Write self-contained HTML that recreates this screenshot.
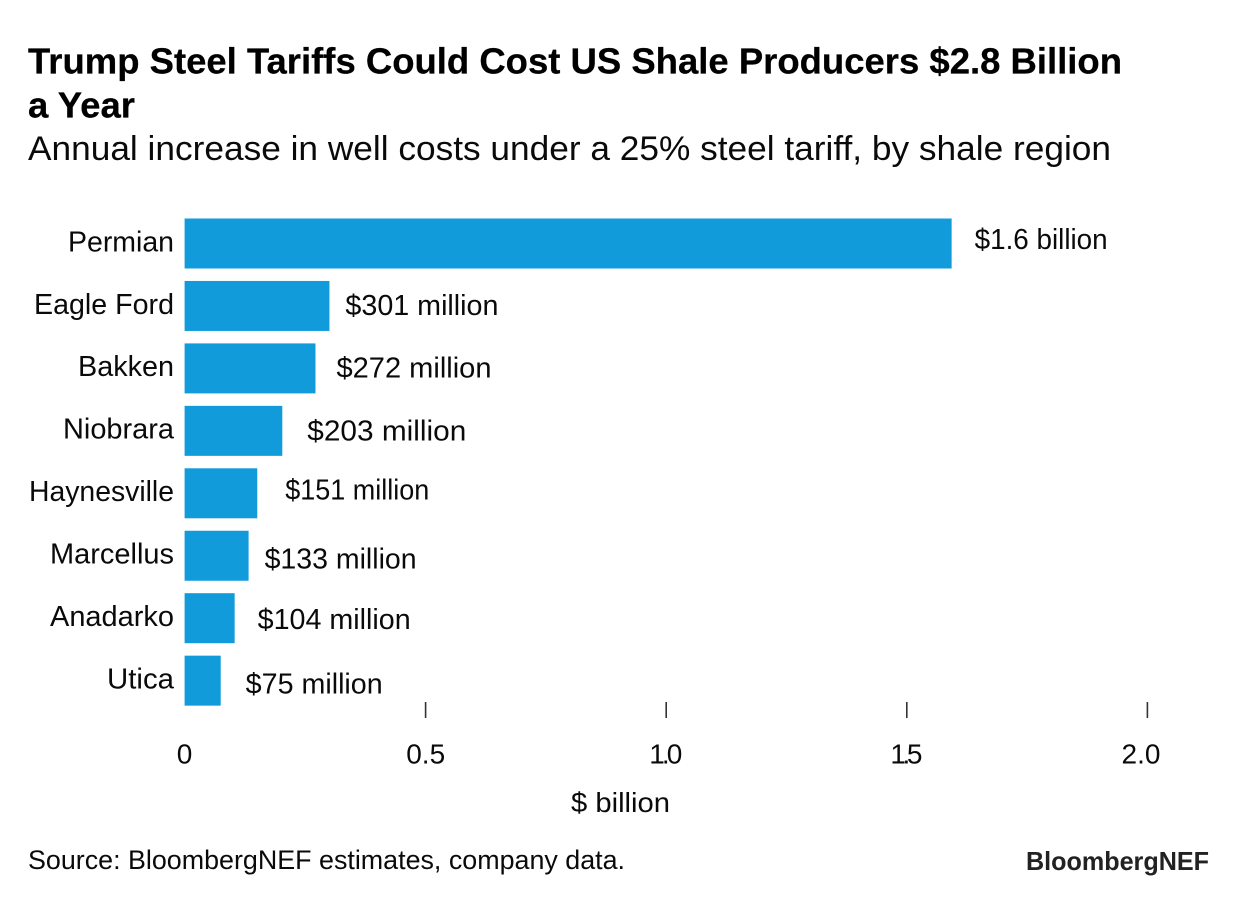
<!DOCTYPE html>
<html lang="en">
<head>
<meta charset="utf-8">
<title>Trump Steel Tariffs Could Cost US Shale Producers $2.8 Billion a Year</title>
<style>
  html, body { margin: 0; padding: 0; background: #fff; }
  body { width: 1240px; height: 916px; overflow: hidden; }
  svg { display: block; }
  text { font-family: "Liberation Sans", sans-serif; fill: #0a0a0a; }
</style>
</head>
<body>
<svg id="chart" xmlns="http://www.w3.org/2000/svg" width="1240" height="916" viewBox="0 0 1240 916">
  <rect x="0" y="0" width="1240" height="916" fill="#fff"/>
  <text x="28" y="73.3" font-size="36" font-weight="700" stroke="#000" stroke-width="0.25" textLength="1094" lengthAdjust="spacingAndGlyphs" style="fill:#000">Trump Steel Tariffs Could Cost US Shale Producers $2.8 Billion</text>
  <text x="28" y="117.5" font-size="36" font-weight="700" stroke="#000" stroke-width="0.25" textLength="107" lengthAdjust="spacingAndGlyphs" style="fill:#000">a Year</text>
  <text x="28" y="160" font-size="34" textLength="1083" lengthAdjust="spacingAndGlyphs">Annual increase in well costs under a 25% steel tariff, by shale region</text>
  <g id="bars"></g>
  <g id="category-labels"></g>
  <g id="value-labels"></g>
  <g id="x-axis"></g>
  <text x="620.5" y="812" font-size="28" text-anchor="middle" textLength="99" lengthAdjust="spacingAndGlyphs">$ billion</text>
  <text x="28" y="869" font-size="27" textLength="597" lengthAdjust="spacingAndGlyphs">Source: BloombergNEF estimates, company data.</text>
  <text x="1026" y="870" font-size="26" font-weight="700" textLength="183" lengthAdjust="spacingAndGlyphs" style="fill:#222">BloombergNEF</text>
</svg>
<script>
// Chart data
const categories = ['Permian', 'Eagle Ford', 'Bakken', 'Niobrara', 'Haynesville', 'Marcellus', 'Anadarko', 'Utica'];
const valuesBillion = [1.594, 0.301, 0.272, 0.203, 0.151, 0.133, 0.104, 0.075];
const valueLabels = ['$1.6 billion', '$301 million', '$272 million', '$203 million', '$151 million', '$133 million', '$104 million', '$75 million'];
const xTicks = [0, 0.5, 1, 1.5, 2];
const xTickLabels = ['0', '0.5', '1.0', '1.5', '2.0'];

// Layout
const NS = 'http://www.w3.org/2000/svg';
const x0 = 184.6, xPerUnit = 481.2;
const bandTop = 218.5, bandStep = 62.45, barHeight = 50;
const xScale = v => x0 + v * xPerUnit;
const yScale = i => bandTop + i * bandStep;
// Hand-placed label styling seen in the reference (relative to each bar / tick)
const labelNudgeX = [23, 16, 21, 25, 28, 16, 23, 25];
const labelNudgeY = [-1.5, 2, 2.3, 2.8, -1, 5.5, 3.8, 5.7];
const labelWidths = [133, 153, 155, 159, 144, 152, 153, 137];
const categoryWidths = [106, 140, 96, 111, 145, 124, 124, 67];
const tickLabelNudgeX = [0, 0.5, 0, 0, -6];
const tickLabelWidths = [17, 39, 33, 32, 39];

function make(tag, attrs, text) {
  const el = document.createElementNS(NS, tag);
  for (const k in attrs) el.setAttribute(k, attrs[k]);
  if (text !== undefined) el.textContent = text;
  return el;
}

const barsG = document.getElementById('bars');
const catG = document.getElementById('category-labels');
const valG = document.getElementById('value-labels');
const axisG = document.getElementById('x-axis');

categories.forEach((name, i) => {
  const slug = name.toLowerCase().replace(/\s+/g, '-');
  const bar = make('rect', { x: x0, y: yScale(i), width: xScale(valuesBillion[i]) - x0, height: barHeight, fill: '#119bdb' });
  
  
  barsG.appendChild(bar);

  const cat = make('text', {
    x: 174,
    y: yScale(i) + 32.8,
    'font-size': 28.5,
    'text-anchor': 'end',
    textLength: categoryWidths[i],
    lengthAdjust: 'spacingAndGlyphs'
  }, name);
  
  
  catG.appendChild(cat);

  const val = make('text', {
    x: xScale(valuesBillion[i]) + labelNudgeX[i],
    y: yScale(i) + 32 + labelNudgeY[i],
    'font-size': 28.5,
    textLength: labelWidths[i],
    lengthAdjust: 'spacingAndGlyphs'
  }, valueLabels[i]);
  
  
  valG.appendChild(val);
});

xTicks.forEach((t, i) => {
  if (t !== 0) {
    const tick = make('line', { x1: xScale(t) + 0.4, x2: xScale(t) + 0.4, y1: 702, y2: 718, stroke: '#333', 'stroke-width': 1.6 });
    
    
    axisG.appendChild(tick);
  }
  const label = make('text', {
    x: xScale(t) + tickLabelNudgeX[i],
    y: 763.3,
    'font-size': 28,
    'text-anchor': 'middle',
    textLength: tickLabelWidths[i],
    lengthAdjust: 'spacing'
  }, xTickLabels[i]);
  
  
  axisG.appendChild(label);
});
</script>
</body>
</html>
